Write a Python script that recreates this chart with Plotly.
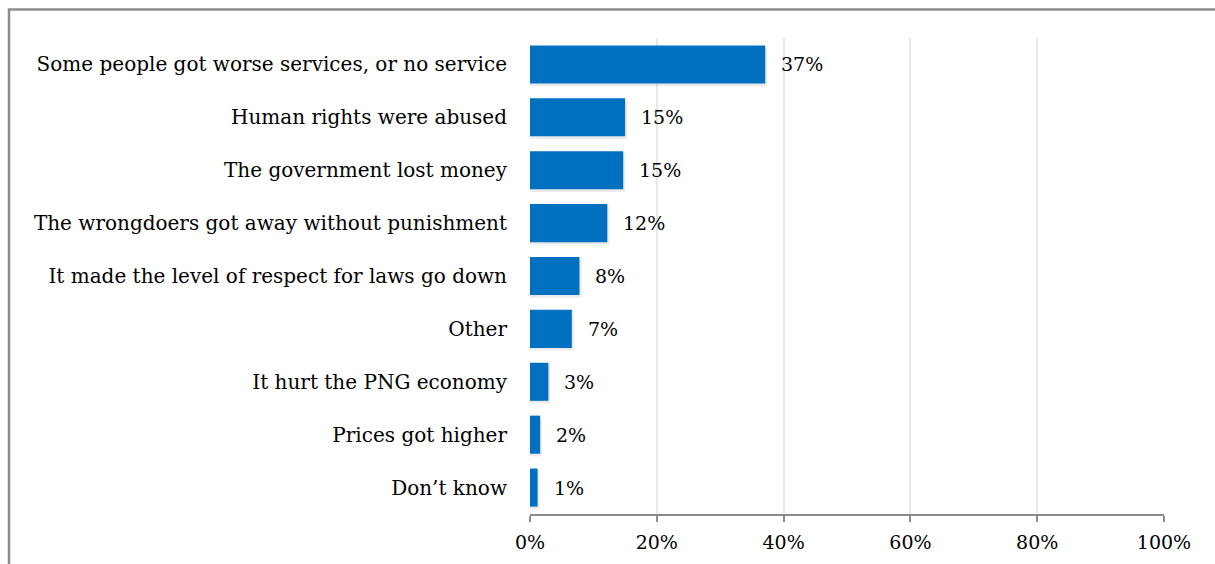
import plotly.graph_objects as go

categories = [
    "Some people got worse services, or no service",
    "Human rights were abused",
    "The government lost money",
    "The wrongdoers got away without punishment",
    "It made the level of respect for laws go down",
    "Other",
    "It hurt the PNG economy",
    "Prices got higher",
    "Don\u2019t know",
]
shares = [37.1, 15.0, 14.7, 12.2, 7.8, 6.6, 2.9, 1.6, 1.2]
x_ticks = [0, 20, 40, 60, 80, 100]
x_tick_labels = ["0%", "20%", "40%", "60%", "80%", "100%"]

FONT = "DejaVu Serif"
BAR_WIDTH = 0.72

fig = go.Figure()

# soft drop shadow under each bar
fig.add_trace(go.Bar(
    x=[v + 0.3 for v in shares], y=categories, orientation="h",
    width=BAR_WIDTH, offset=-BAR_WIDTH / 2 + 0.05,
    marker=dict(color="rgba(0,0,0,0.08)", line=dict(width=0)),
    hoverinfo="skip", showlegend=False,
))
fig.add_trace(go.Bar(
    x=shares, y=categories, orientation="h",
    width=BAR_WIDTH, offset=-BAR_WIDTH / 2,
    marker=dict(color="#0070C0", line=dict(width=0)),
    showlegend=False,
))

for cat, v in zip(categories, shares):
    fig.add_annotation(
        x=v, y=cat, text=f"{round(v):d}%", showarrow=False,
        xanchor="left", yanchor="middle", xshift=14,
        font=dict(family=FONT, size=19, color="#000000"),
    )

fig.update_layout(
    width=1215, height=564,
    margin=dict(l=530, r=51, t=38, b=50),
    paper_bgcolor="white", plot_bgcolor="white",
    barmode="overlay",
    font=dict(family=FONT, size=19, color="#000000"),
    shapes=[dict(
        type="rect", xref="paper", yref="paper",
        x0=(9 - 530) / 634, x1=1.2,
        y0=-0.5, y1=1 + (38 - 9.5) / 476,
        line=dict(color="#8c8c8c", width=2.5), fillcolor="rgba(0,0,0,0)",
        layer="above",
    )],
)
fig.update_xaxes(
    range=[0, 100], tickvals=x_ticks, ticktext=x_tick_labels,
    showgrid=True, gridcolor="#e8e8e8", gridwidth=1.5,
    showline=True, linecolor="#8c8c8c", linewidth=2,
    ticks="outside", ticklen=6, tickcolor="#8c8c8c", tickwidth=2,
    ticklabelstandoff=4,
    zeroline=False, fixedrange=True,
    tickfont=dict(family=FONT, size=19, color="#000000"),
)
fig.update_yaxes(
    autorange="reversed", showgrid=False, showline=False, ticks="",
    ticklabelstandoff=22,
    tickfont=dict(family=FONT, size=20, color="#000000"),
)

fig.write_html("out.html")
